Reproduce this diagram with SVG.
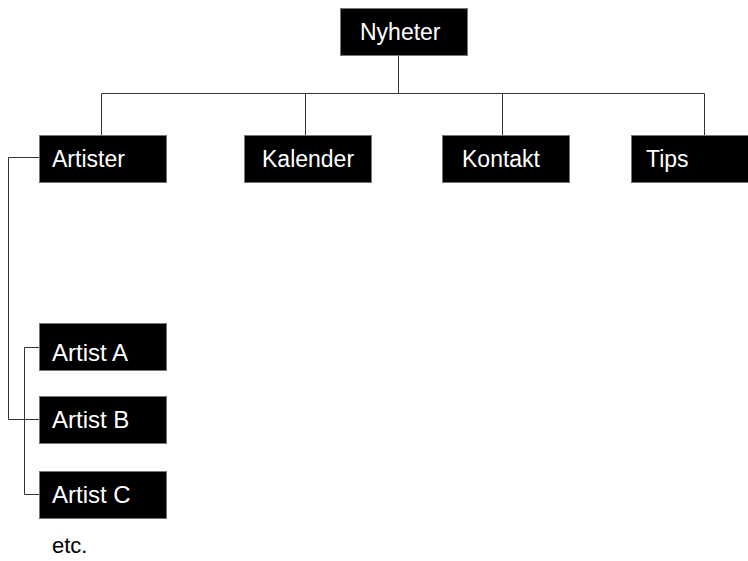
<svg xmlns="http://www.w3.org/2000/svg" width="748" height="561" viewBox="0 0 748 561">
<style>
.box{fill:#000;stroke:#777;stroke-width:1}
.lbl{fill:#fff;font-family:"Liberation Sans",Arial,sans-serif;font-size:23px}
.sub{font-size:24px}
.ln{fill:none;stroke:#333;stroke-width:1}
</style>
<rect width="748" height="561" fill="#fff"/>
<g id="connectors">
<path class="ln" d="M398.5 55V93.5M101.5 93.5H704.5M101.5 93.5V135M305.5 93.5V135M502.5 93.5V135M704.5 93.5V135"/>
<path class="ln" d="M39 157.5H8.5V419.5H39"/>
<path class="ln" d="M39 347.5H24.5V494.5H39"/>
</g>
<g id="nyheter"><rect class="box" x="340.5" y="8.5" width="127" height="47"/><text class="lbl" x="360" y="40">Nyheter</text></g>
<g id="artister"><rect class="box" x="39.5" y="135.5" width="127" height="47"/><text class="lbl" x="52" y="167">Artister</text></g>
<g id="kalender"><rect class="box" x="244.5" y="135.5" width="127" height="47"/><text class="lbl" x="262" y="167">Kalender</text></g>
<g id="kontakt"><rect class="box" x="442.5" y="135.5" width="127" height="47"/><text class="lbl" x="462" y="167">Kontakt</text></g>
<g id="tips"><rect class="box" x="631.5" y="135.5" width="127" height="47"/><text class="lbl" x="646" y="167">Tips</text></g>
<g id="artist-a"><rect class="box" x="39.5" y="323.5" width="127" height="47"/><text class="lbl sub" x="52" y="361">Artist A</text></g>
<g id="artist-b"><rect class="box" x="39.5" y="396.5" width="127" height="47"/><text class="lbl sub" x="52" y="428">Artist B</text></g>
<g id="artist-c"><rect class="box" x="39.5" y="471.5" width="127" height="47"/><text class="lbl sub" x="52" y="503">Artist C</text></g>
<text x="52" y="553" style="fill:#000;font-family:'Liberation Sans',Arial,sans-serif;font-size:22px">etc.</text>
</svg>
